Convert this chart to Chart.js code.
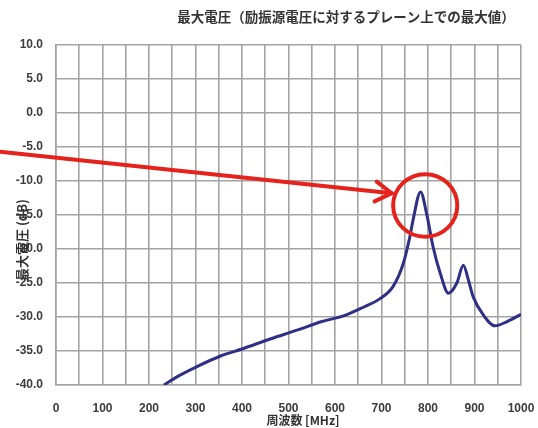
<!DOCTYPE html>
<html lang="ja">
<head>
<meta charset="utf-8">
<title>最大電圧</title>
<script src="https://cdn.jsdelivr.net/npm/chart.js@4.4.1/dist/chart.umd.min.js"></script>
<style>
  html, body { margin: 0; padding: 0; background: #fff; }
  #wrap { position: relative; width: 538px; height: 428px; }
</style>
</head>
<body>
<div id="wrap"><canvas id="c"></canvas></div>
<script>
const chartTitle = '最大電圧（励振源電圧に対するプレーン上での最大値）';
const yTitle = '最大電圧 (dB)';
const xTitle = '周波数 [MHz]';

// Frequency sweep [MHz]
const freqMHz = [232, 260, 300, 355, 400, 462, 520, 570, 620, 660, 697, 725, 747, 761, 768,
                 784, 797, 811, 826, 844, 862, 876, 887, 897, 919, 944, 969, 1000];
// Maximum voltage on the plane relative to the source [dB]
const maxVoltageDb = [-40.0, -38.8, -37.4, -35.7, -34.7, -33.2, -31.9, -30.7, -29.8, -28.6, -27.3,
                      -25.5, -22.1, -18.2, -15.7, -11.6, -14.8, -19.7, -23.5, -26.5, -25.0, -22.4,
                      -24.6, -27.0, -29.7, -31.3, -30.7, -29.6];

// Axis ticks
const xTickLabels = ['0', '100', '200', '300', '400', '500', '600', '700', '800', '900', '1000'];
const yTickValues = [10, 5, 0, -5, -10, -15, -20, -25, -30, -35, -40];

// Callout pointing at the resonance peak (data units)
const arrowFrom = { x: -120, y: -5.7 };
const arrowTo = { x: 722, y: -11.8 };
const ringCenter = { x: 794, y: -13.6 };
const ringRadius = { x: 69, y: 4.6 };

const GRID = '#a3a3a3';
const TEXT = '#3c3c3c';
const RED = '#e5231c';

Chart.defaults.font.family = "'Liberation Sans', 'Noto Sans CJK JP', sans-serif";

const decorations = {
  id: 'decorations',
  afterDraw(chart) {
    const { ctx, scales: { x, y } } = chart;
    ctx.save();

    // titles
    ctx.fillStyle = '#333';
    ctx.textAlign = 'center';
    ctx.textBaseline = 'middle';
    ctx.font = "bold 13.5px 'Noto Sans CJK JP', sans-serif";
    ctx.fillText(chartTitle, 346, 17);

    ctx.font = "bold 12px 'Noto Sans CJK JP', sans-serif";
    ctx.fillText(xTitle, 303, 420);

    ctx.save();
    ctx.translate(22, 240);
    ctx.rotate(-Math.PI / 2);
    ctx.font = "bold 13px 'Noto Sans CJK JP', sans-serif";
    ctx.fillText(yTitle, 0, 0);
    ctx.restore();

    // red arrow
    const x0 = x.getPixelForValue(arrowFrom.x), y0 = y.getPixelForValue(arrowFrom.y);
    const x1 = x.getPixelForValue(arrowTo.x), y1 = y.getPixelForValue(arrowTo.y);
    const ang = Math.atan2(y1 - y0, x1 - x0);
    ctx.strokeStyle = RED;
    ctx.lineWidth = 4;
    ctx.lineCap = 'round';
    ctx.lineJoin = 'round';
    ctx.beginPath();
    ctx.moveTo(x0, y0);
    ctx.lineTo(x1, y1);
    ctx.stroke();
    const head = 19, spread = 0.55;
    ctx.beginPath();
    ctx.moveTo(x1 - head * Math.cos(ang - spread), y1 - head * Math.sin(ang - spread));
    ctx.lineTo(x1, y1);
    ctx.lineTo(x1 - head * Math.cos(ang + spread), y1 - head * Math.sin(ang + spread));
    ctx.stroke();

    // red ring around the peak
    const cx = x.getPixelForValue(ringCenter.x), cy = y.getPixelForValue(ringCenter.y);
    const rx = Math.abs(x.getPixelForValue(ringCenter.x + ringRadius.x) - cx);
    const ry = Math.abs(y.getPixelForValue(ringCenter.y + ringRadius.y) - cy);
    ctx.beginPath();
    ctx.ellipse(cx, cy, rx, ry, 0, 0, Math.PI * 2);
    ctx.stroke();

    ctx.restore();
  }
};

new Chart(document.getElementById('c'), {
  type: 'line',
  data: {
    datasets: [{
      data: freqMHz.map((f, i) => ({ x: f, y: maxVoltageDb[i] })),
      borderColor: '#2e2f86',
      borderWidth: 3,
      pointRadius: 0,
      cubicInterpolationMode: 'monotone',
      fill: false
    }]
  },
  options: {
    responsive: true,
    maintainAspectRatio: false,
    animation: false,
    events: [],
    layout: { padding: { left: 0, right: 17, top: 45, bottom: 0 } },
    plugins: { legend: { display: false }, tooltip: { enabled: false }, title: { display: false } },
    scales: {
      x: {
        type: 'linear',
        min: 0,
        max: 1000,
        afterFit(scale) {
          scale.height = 43;
          scale.paddingLeft = 0;
          scale.paddingRight = 0;
        },
        grid: { color: GRID, lineWidth: 1.6, drawTicks: false },
        border: { color: GRID, width: 1.6 },
        ticks: {
          stepSize: 50,
          padding: 16,
          autoSkip: false,
          maxRotation: 0,
          color: TEXT,
          font: { size: 12, weight: 'bold' },
          callback: (v) => (v % 100 === 0 ? xTickLabels[v / 100] : '')
        }
      },
      y: {
        min: -40,
        max: 10,
        afterFit(scale) { scale.width = 56; },
        afterBuildTicks(scale) { scale.ticks = yTickValues.map(v => ({ value: v })); },
        grid: { color: GRID, lineWidth: 1.6, drawTicks: false },
        border: { color: GRID, width: 1.6 },
        ticks: {
          padding: 13,
          color: TEXT,
          font: { size: 12, weight: 'bold' },
          callback: (v) => Number(v).toFixed(1)
        }
      }
    }
  },
  plugins: [decorations]
});
</script>
</body>
</html>
